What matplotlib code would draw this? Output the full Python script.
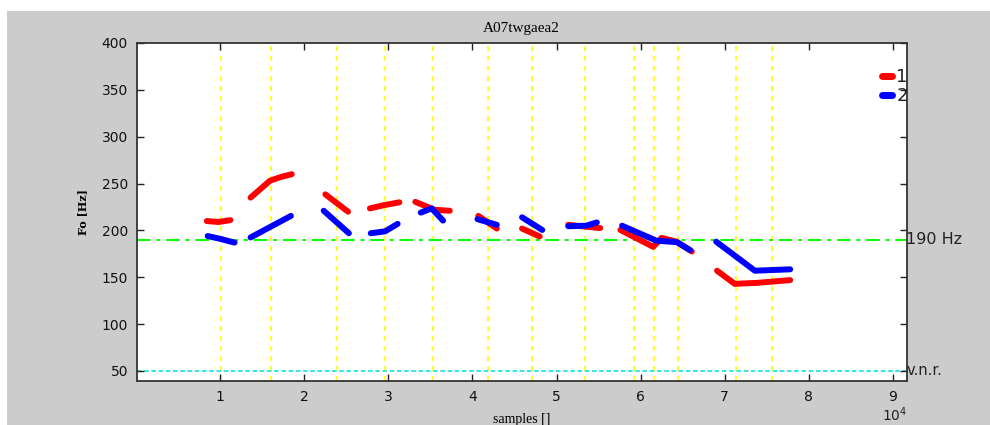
import numpy as np
import matplotlib
matplotlib.use("Agg")
import matplotlib.pyplot as plt
from matplotlib.lines import Line2D
from matplotlib.patches import Rectangle
import matplotlib.transforms as mtransforms

# ---- data (x in units of 10^4 samples, y in Hz); NaN separates segments ----
nan = np.nan
red_x = [0.84, 0.98, 1.12, nan,
         1.36, 1.59, 1.72, 1.85, nan,
         2.25, 2.52, nan,
         2.78, 2.95, 3.13, nan,
         3.32, 3.55, 3.73, nan,
         4.07, 4.29, nan,
         4.59, 4.80, nan,
         5.14, 5.35, 5.52, nan,
         5.76, 6.15, 6.25, 6.43, 6.61, nan,
         6.91, 7.12, 7.38, 7.78]
red_y = [210, 209, 211, nan,
         235, 253, 257, 260, nan,
         238.5, 220, nan,
         223.5, 227, 230, nan,
         230.5, 222, 221, nan,
         215.5, 202, nan,
         202, 193.5, nan,
         206, 204, 202.5, nan,
         200.5, 182.5, 192, 188, 177.5, nan,
         157, 143, 144, 147]

blue_x = [0.85, 1.0, 1.17, nan,
          1.36, 1.84, nan,
          2.23, 2.53, nan,
          2.79, 2.96, 3.11, nan,
          3.385, 3.515, 3.65, nan,
          4.06, 4.29, nan,
          4.59, 4.83, nan,
          5.14, 5.35, 5.48, nan,
          5.78, 6.19, 6.43, 6.59, nan,
          6.90, 7.36, 7.78]
blue_y = [194, 191, 187, nan,
          192.5, 215.5, nan,
          221, 197, nan,
          197, 199, 207, nan,
          219, 223.5, 210.5, nan,
          212, 206, nan,
          214, 200.5, nan,
          204.5, 205, 208.5, nan,
          205, 189, 187.5, 179, nan,
          188, 157, 158.5]

boundaries = [1.008, 1.609, 2.383, 2.954, 3.531, 4.186, 4.704, 5.339,
              5.922, 6.160, 6.446, 7.136, 7.558]

ref_level = 190
vnr_level = 50
x_ticks = [1, 2, 3, 4, 5, 6, 7, 8, 9]
y_ticks = [50, 100, 150, 200, 250, 300, 350, 400]
series_labels = ["1", "2"]
title = "A07twgaea2"

# ---- figure ----
W, H = 990, 425
fig = plt.figure(figsize=(W / 100, H / 100), dpi=100)
fig.patch.set_facecolor("white")
fig.patches.append(Rectangle((7 / W, 0), 1 - 7 / W, 1 - 11 / H,
                             transform=fig.transFigure, facecolor="#cccccc",
                             edgecolor="none", zorder=-10))

ax_l, ax_r, ax_t, ax_b = 137, 906.5, 43, 381.3
ax = fig.add_axes([ax_l / W, 1 - ax_b / H, (ax_r - ax_l) / W, (ax_b - ax_t) / H])
ax.set_facecolor("white")
ax.set_xlim(0.009, 9.164)
ax.set_ylim(39, 400)

for b in boundaries:
    ax.axvline(b, color="#ffff00", lw=1.2, dashes=(3, 3), zorder=1)

ax.axhline(ref_level, color="#00ff00", lw=1.4, dashes=(7, 3, 2, 3), zorder=1)
ax.axhline(vnr_level, color="#22e5e5", lw=1.3, dashes=(2.5, 1.5), zorder=1)

ax.plot(red_x, red_y, color="#ff0000", lw=4.3, solid_capstyle="round",
        solid_joinstyle="round", zorder=3)
ax.plot(blue_x, blue_y, color="#0000ff", lw=4.3, solid_capstyle="round",
        solid_joinstyle="round", zorder=4)

ax.set_xticks(x_ticks)
ax.set_xticklabels([str(t) for t in x_ticks])
ax.set_yticks(y_ticks)
ax.set_yticklabels([str(t) for t in y_ticks])
ax.tick_params(direction="in", length=5, width=1.0, color="#222222",
               top=True, right=True, labelsize=10, pad=6.5,
               labelcolor="#111111")
for s in ax.spines.values():
    s.set_color("#333333")
    s.set_linewidth(1.3)

ax.set_title(title, family="Liberation Serif", fontsize=11, pad=8)
ax.set_xlabel("samples []", family="Liberation Serif", fontsize=10, labelpad=6)
ax.set_ylabel("Fo [Hz]", family="DejaVu Serif", fontsize=8, fontweight="bold",
              labelpad=10)

trans = mtransforms.blended_transform_factory(ax.transAxes, ax.transData)
ax.text(1.0, ref_level, "%d Hz" % ref_level, transform=trans, ha="left",
        va="center", fontsize=11.5, color="#222222")
ax.text(1.0, vnr_level, "v.n.r.", transform=trans, ha="left", va="center",
        fontsize=10.5, color="#222222")

fig.text(882 / W, 0.5 / H, r"10$^4$", fontsize=10, ha="left", va="bottom",
         color="#222222")

handles = [Line2D([0], [0], color="#ff0000", lw=5, solid_capstyle="round"),
           Line2D([0], [0], color="#0000ff", lw=5, solid_capstyle="round")]
leg = ax.legend(handles, series_labels, loc="upper left",
                bbox_to_anchor=(882 / W, 1 - 68 / H),
                bbox_transform=fig.transFigure, frameon=False, fontsize=13,
                handlelength=0.55, handletextpad=0.25, labelspacing=0.05,
                borderpad=0, borderaxespad=0)
for t in leg.get_texts():
    t.set_color("#222222")

fig.savefig("out.png", dpi=100)
